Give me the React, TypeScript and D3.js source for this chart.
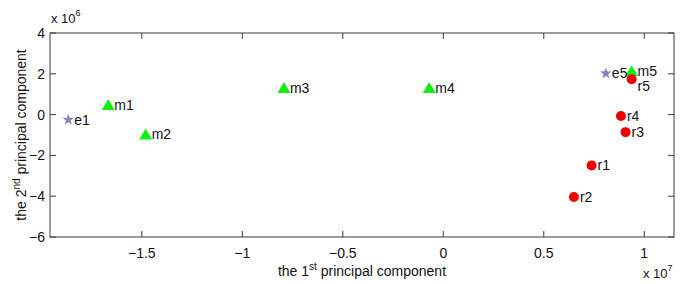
import React from "react";
import * as d3 from "d3";

const names = ["e1", "m1", "m2", "m3", "m4", "m5", "e5", "r5", "r4", "r3", "r1", "r2"];
const groups = ["e", "m", "m", "m", "m", "m", "e", "r", "r", "r", "r", "r"];
const pc1 = [-1.866, -1.667, -1.481, -0.793, -0.07, 0.937, 0.809, 0.937, 0.884, 0.907, 0.738, 0.65]; // x 1e7
const pc2 = [-0.25, 0.47, -0.97, 1.31, 1.3, 2.13, 2.02, 1.73, -0.07, -0.86, -2.49, -4.04]; // x 1e6
const xTicks = [-1.5, -1, -0.5, 0, 0.5, 1];
const yTicks = [-6, -4, -2, 0, 2, 4];

const W = 685, H = 284;
const L = 50, R = 674, T = 33, B = 237;

const fmt = (v: number) => (v < 0 ? "\u2212" + String(-v) : String(v));

function starPath(cx: number, cy: number, r: number) {
  const pts: string[] = [];
  for (let i = 0; i < 10; i++) {
    const rr = i % 2 === 0 ? r : r * 0.42;
    const a = -Math.PI / 2 + (i * Math.PI) / 5;
    pts.push(`${cx + rr * Math.cos(a)},${cy + rr * Math.sin(a)}`);
  }
  return "M" + pts.join("L") + "Z";
}

export default function App() {
  const x = d3.scaleLinear().domain([-1.957, 1.148]).range([L, R]);
  const y = d3.scaleLinear().domain([-6, 4]).range([B, T]);
  const axisColor = "#3a3a3a";
  const font = "Liberation Sans, Arial, Helvetica, sans-serif";

  // simple label collision avoidance: push overlapping labels down
  const labels: { n: string; lx: number; ly: number }[] = [];
  names.forEach((n, i) => {
    const lx = x(pc1[i]) + 6;
    let ly = y(pc2[i]) + 5;
    for (const o of labels) {
      if (Math.abs(o.lx - lx) < 18 && Math.abs(o.ly - ly) < 15) ly = o.ly + 15;
    }
    labels.push({ n, lx, ly });
  });

  return (
    <svg width={W} height={H} style={{ position: "absolute", left: 0, top: 0, background: "#fff" }} fontFamily={font}>
      <rect x={L} y={T} width={R - L} height={B - T} fill="none" stroke={axisColor} strokeWidth={1} />
      {xTicks.map((t) => (
        <g key={"x" + t}>
          <line x1={x(t)} x2={x(t)} y1={B} y2={B - 6} stroke={axisColor} />
          <line x1={x(t)} x2={x(t)} y1={T} y2={T + 6} stroke={axisColor} />
          <text x={x(t)} y={B + 21} textAnchor="middle" fontSize={14} fill="#111">{fmt(t)}</text>
        </g>
      ))}
      {yTicks.map((t) => (
        <g key={"y" + t}>
          <line x1={L} x2={L + 6} y1={y(t)} y2={y(t)} stroke={axisColor} />
          <line x1={R} x2={R - 6} y1={y(t)} y2={y(t)} stroke={axisColor} />
          <text x={L - 5} y={y(t) + 5} textAnchor="end" fontSize={14} fill="#111">{fmt(t)}</text>
        </g>
      ))}
      <text x={L + 1} y={23} fontSize={13} fill="#111">x 10<tspan dy={-7} fontSize={9}>6</tspan></text>
      <text x={643} y={278} fontSize={13} fill="#111">x 10<tspan dy={-7} fontSize={9}>7</tspan></text>
      <text x={(L + R) / 2} y={276} textAnchor="middle" fontSize={14} fill="#111">
        the 1<tspan dy={-6} fontSize={10}>st</tspan><tspan dy={6}> principal component</tspan>
      </text>
      <text transform={`translate(26,${(T + B) / 2}) rotate(-90)`} textAnchor="middle" fontSize={14} fill="#111">
        the 2<tspan dy={-6} fontSize={10}>nd</tspan><tspan dy={6}> principal component</tspan>
      </text>
      {names.map((n, i) => {
        const cx = x(pc1[i]);
        const cy = y(pc2[i]);
        const g = groups[i];
        let mark;
        if (g === "e") mark = <path d={starPath(cx, cy, 6)} fill="#8585c8" />;
        else if (g === "m") mark = <path d={`M${cx},${cy - 6}L${cx + 6.5},${cy + 5}L${cx - 6.5},${cy + 5}Z`} fill="#11ee11" />;
        else mark = <circle cx={cx} cy={cy} r={5} fill="#ee0000" />;
        return <g key={n}>{mark}</g>;
      })}
      {labels.map((l) => (
        <text key={"l" + l.n} x={l.lx} y={l.ly} fontSize={14} fill="#111">{l.n}</text>
      ))}
    </svg>
  );
}
